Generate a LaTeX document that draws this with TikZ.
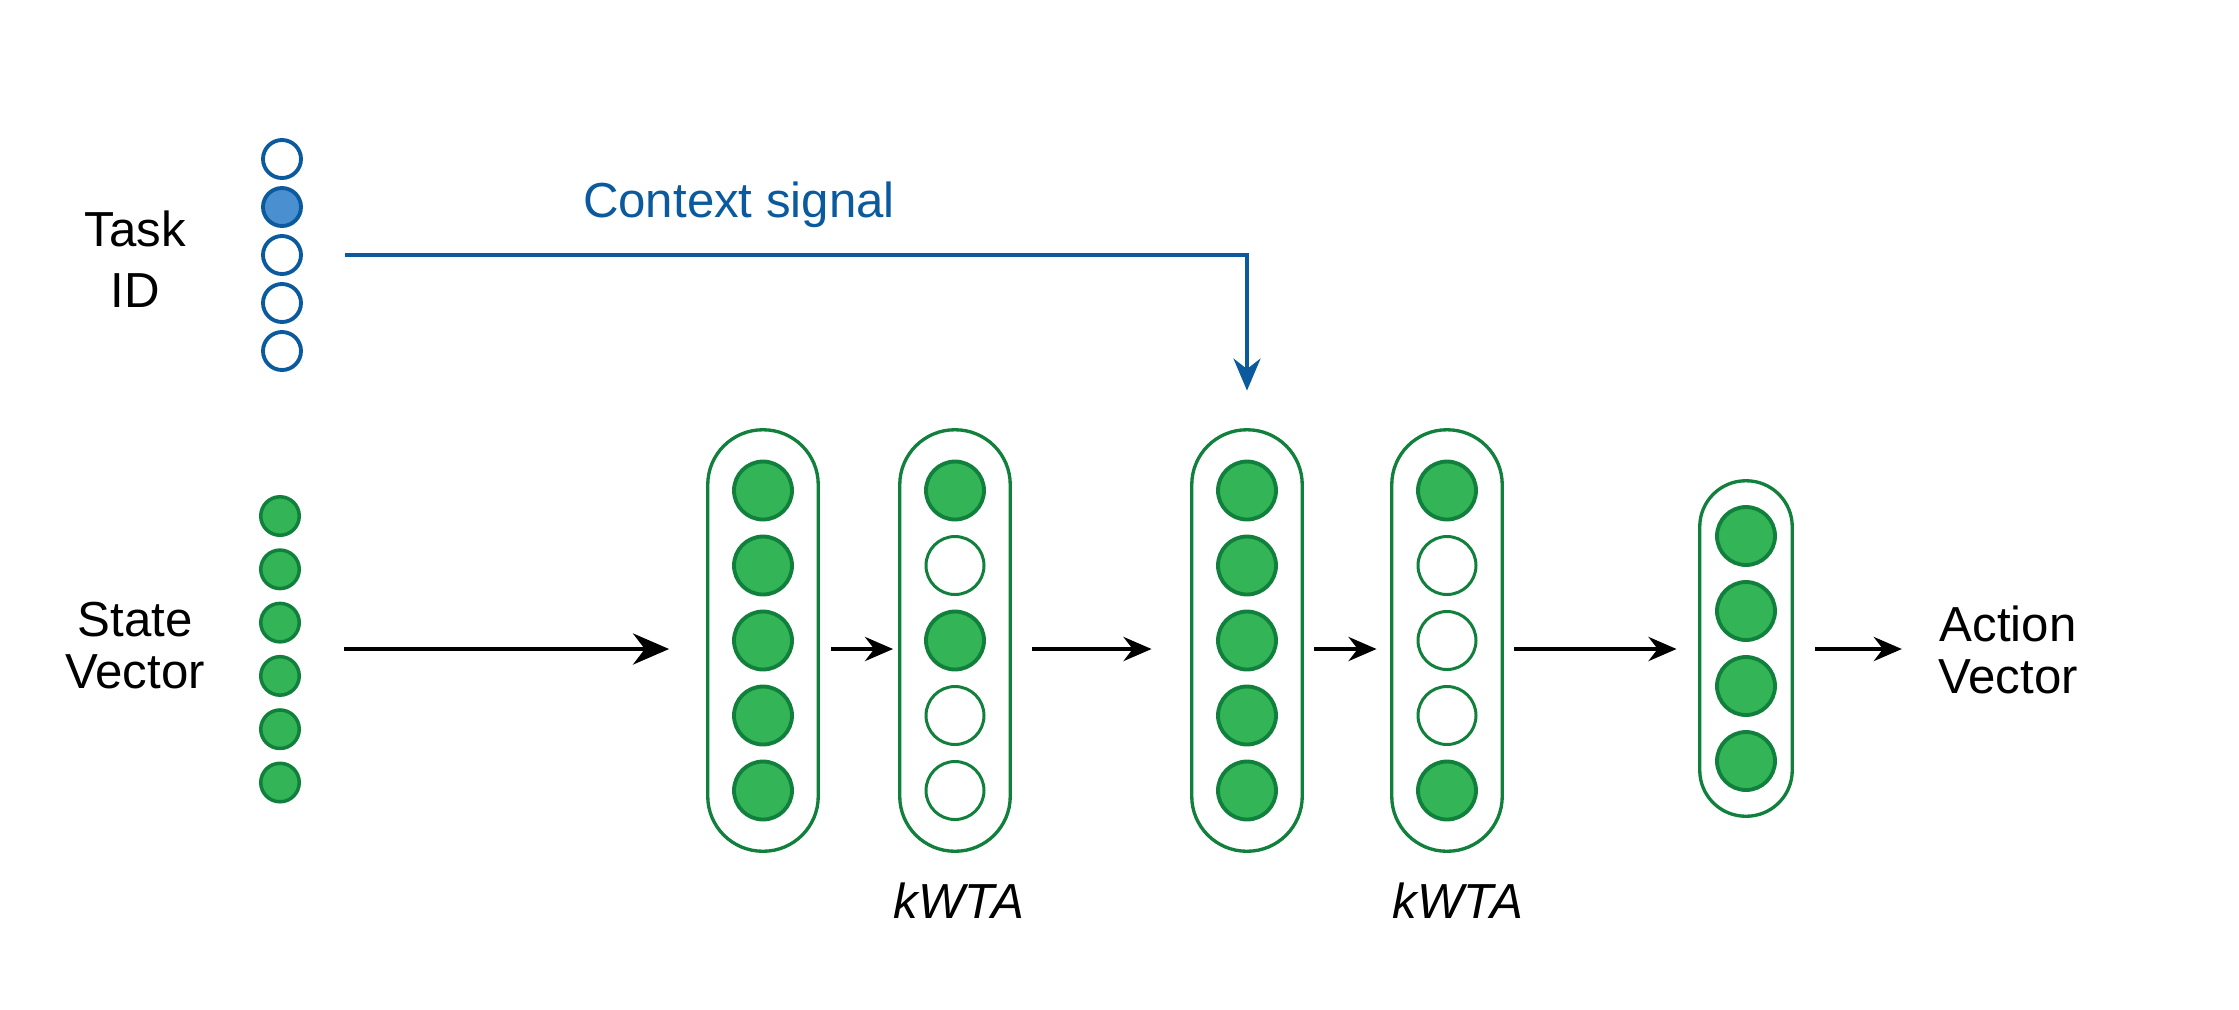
\documentclass[tikz,border=0pt]{standalone}
\usepackage{fontspec}
\setmainfont{Liberation Sans}
\usepackage{tikz}
\usetikzlibrary{arrows.meta, positioning}

\begin{document}
\begin{tikzpicture}[
  execute at begin picture={
    \definecolor{netgreen}{RGB}{51,180,87}
    \definecolor{netdark}{RGB}{16,128,60}
    \definecolor{ctxblue}{RGB}{11,90,158}
    \definecolor{ctxlight}{RGB}{74,143,207}
  },
  font=\fontsize{14}{14.8}\selectfont,
  >=Stealth,
  layer/.style={
    draw=netdark,
    line width=0.95pt,
    rounded corners=0.55cm,
    minimum width=1.105cm,
    minimum height=4.215cm,
    inner sep=0pt
  },
  fired/.style={circle, draw=netdark, line width=1.1pt, fill=netgreen,
    minimum size=0.58cm, inner sep=0pt},
  quiet/.style={circle, draw=netdark, line width=0.85pt, fill=white,
    minimum size=0.58cm, inner sep=0pt},
  statecell/.style={circle, draw=netdark, line width=1pt, fill=netgreen,
    minimum size=0.385cm, inner sep=0pt},
  taskcell/.style={circle, draw=ctxblue, line width=1.1pt,
    minimum size=0.38cm, inner sep=0pt},
  arrow/.style={-{Stealth[length=0.28cm, width=0.24cm]}, line width=1.25pt},
  ctxarrow/.style={-{Stealth[length=0.32cm, width=0.27cm]}, line width=1.1pt, draw=ctxblue}
]
\useasboundingbox (0,0) rectangle (22.39,-10.09);
\coordinate (row) at (0,-6.49);

% inputs
\foreach \i/\f in {1/white,2/ctxlight,3/white,4/white,5/white}
  \node[taskcell, fill=\f] (t\i) at (2.82,{-1.59-0.48*(\i-1)}) {};
\foreach \i in {1,...,6}
  \node[statecell] (s\i) at (2.80,{-5.16-0.533*(\i-1)}) {};

\node[align=center, font=\fontsize{14}{17.4}\selectfont] (task) at (1.35,-2.59) {Task\\ID};
\node[align=center] (state) at (1.35,-6.455) {State\\Vector};

% layers
\node[layer] (L1) at (7.63,-6.405) {};
\foreach \i in {1,...,5}
  \node[fired] (L1-\i) at ([yshift={0.75cm*(3-\i)}]L1.center) {};

\node[layer] (L2) at (9.55,-6.405) {};
\foreach \s [count=\i] in {fired,quiet,fired,quiet,quiet}
  \node[\s] (L2-\i) at ([yshift={0.75cm*(3-\i)}]L2.center) {};

\node[layer] (L3) at (12.47,-6.405) {};
\foreach \i in {1,...,5}
  \node[fired] (L3-\i) at ([yshift={0.75cm*(3-\i)}]L3.center) {};

\node[layer] (L4) at (14.47,-6.405) {};
\foreach \s [count=\i] in {fired,quiet,quiet,quiet,fired}
  \node[\s] (L4-\i) at ([yshift={0.75cm*(3-\i)}]L4.center) {};

\node[layer, minimum width=0.925cm, minimum height=3.355cm, rounded corners=0.46cm]
  (L5) at (17.46,-6.485) {};
\foreach \i in {1,...,4}
  \node[fired] (L5-\i) at ([yshift={0.75cm*(2.5-\i)}]L5.center) {};

\node[below=0.17cm of L2, xshift=0.04cm] (wta1) {\itshape kWTA};
\node[below=0.17cm of L4, xshift=0.11cm] (wta2) {\itshape kWTA};

\node[align=center] (action) at (20.08,-6.50) {Action\\Vector};

\node[anchor=base, text=ctxblue] (ctx) at (7.39,-2.17) {Context signal};

% connectors
\draw[arrow, -{Stealth[length=0.36cm, width=0.31cm]}]
  ([xshift=0.43cm]s4.east |- row) -- ([xshift=-0.37cm]L1.west |- row);
\draw[arrow] ([xshift=0.11cm]L1.east |- row) -- ([xshift=-0.05cm]L2.west |- row);
\draw[arrow] ([xshift=0.2cm]L2.east |- row) -- ([xshift=-0.385cm]L3.west |- row);
\draw[arrow] ([xshift=0.1cm]L3.east |- row) -- ([xshift=-0.135cm]L4.west |- row);
\draw[arrow] ([xshift=0.1cm]L4.east |- row) -- ([xshift=-0.215cm]L5.west |- row);
\draw[arrow] ([xshift=0.215cm]L5.east |- row) -- ([xshift=-0.24cm]action.west |- row);
\draw[ctxarrow] ([xshift=0.42cm]t3.east) -| ([yshift=0.375cm]L3.north);

\end{tikzpicture}
\end{document}
